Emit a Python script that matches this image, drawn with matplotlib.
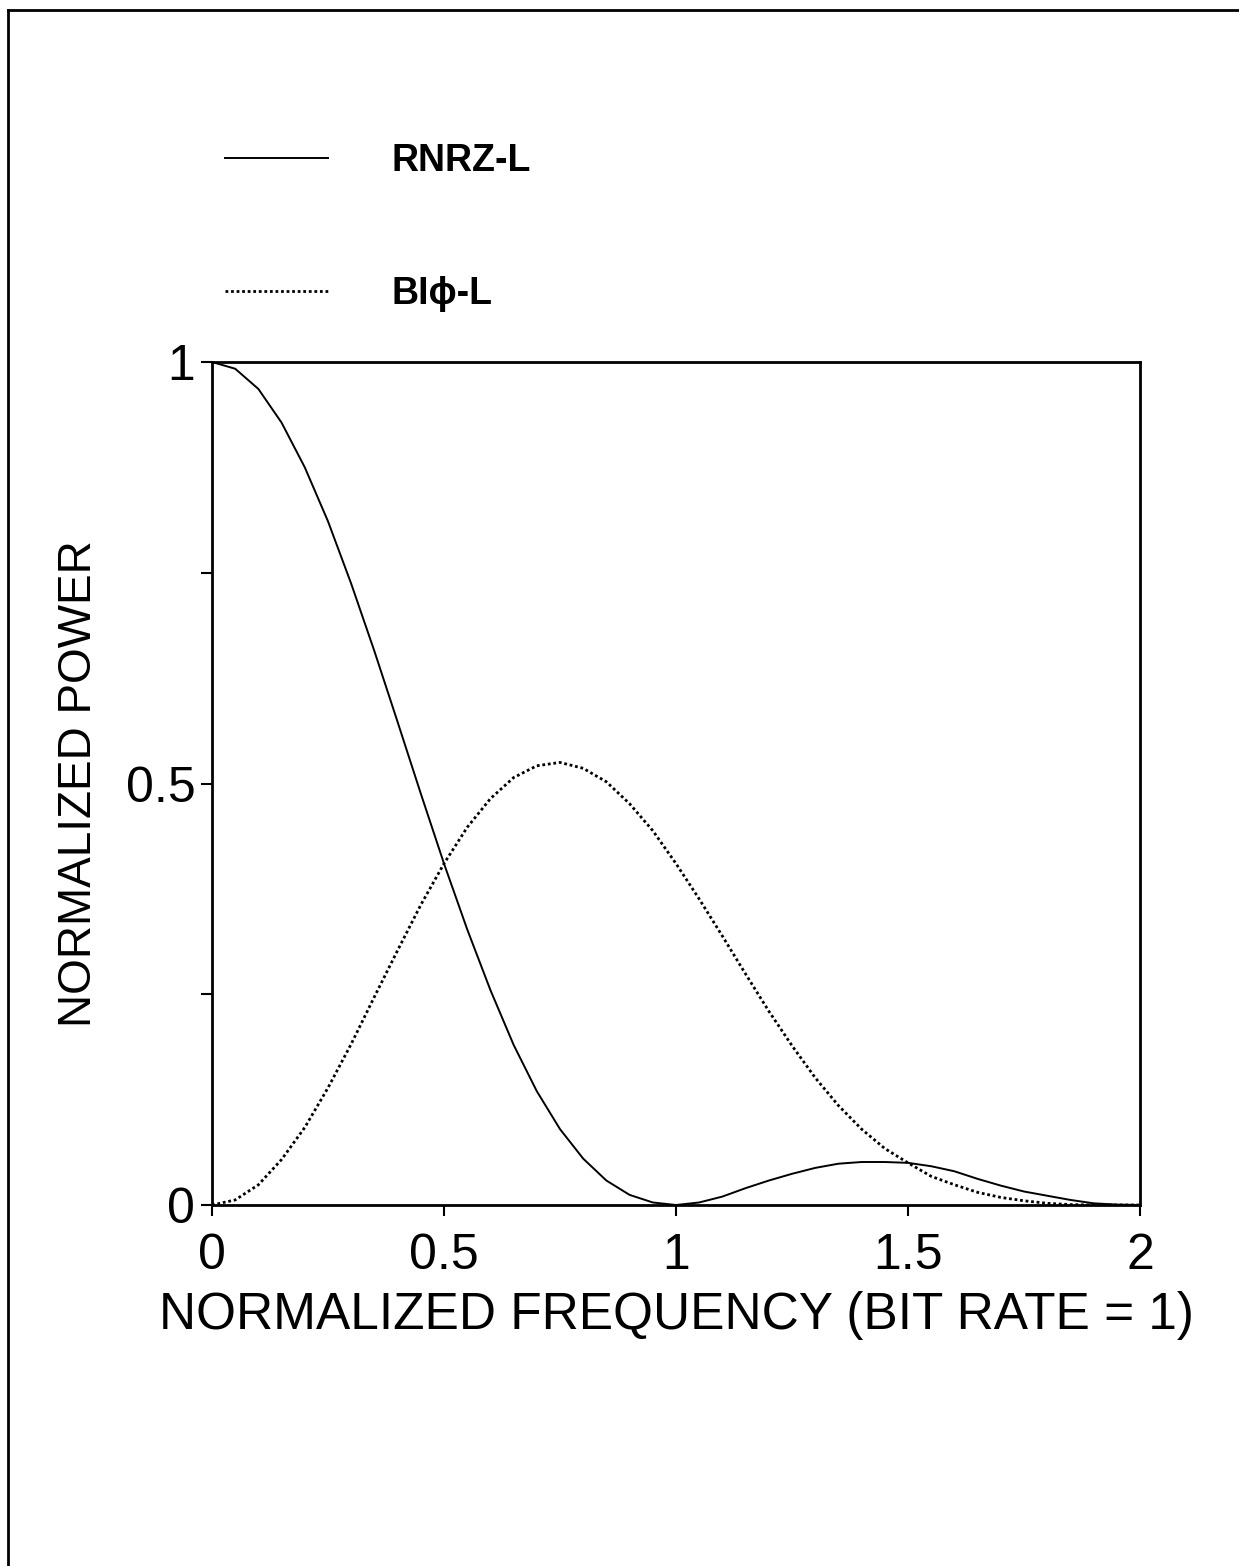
import numpy as np
import matplotlib.pyplot as plt
from matplotlib.lines import Line2D

plt.rcParams['font.family'] = ['Liberation Sans', 'DejaVu Sans']

# normalized frequency (bit rate = 1)
freq = [0.0, 0.05, 0.1, 0.15, 0.2, 0.25, 0.3, 0.35, 0.4, 0.45,
        0.5, 0.55, 0.6, 0.65, 0.7, 0.75, 0.8, 0.85, 0.9, 0.95,
        1.0, 1.05, 1.1, 1.15, 1.2, 1.25, 1.3, 1.35, 1.4, 1.45,
        1.5, 1.55, 1.6, 1.65, 1.7, 1.75, 1.8, 1.85, 1.9, 1.95, 2.0]

# RNRZ-L power (solid line)
rnrz = [1.0, 0.992, 0.968, 0.928, 0.875, 0.811, 0.737, 0.657, 0.573, 0.488,
        0.405, 0.327, 0.255, 0.190, 0.135, 0.090, 0.055, 0.029, 0.012, 0.003,
        0.0, 0.003, 0.010, 0.020, 0.029, 0.037, 0.044, 0.049, 0.051, 0.051,
        0.050, 0.046, 0.040, 0.031, 0.023, 0.016, 0.011, 0.006, 0.002, 0.0005, 0.0]

# Bi-phase-L power (dotted line)
biphase = [0.0, 0.006, 0.024, 0.054, 0.092, 0.139, 0.191, 0.247, 0.302, 0.356,
           0.405, 0.448, 0.482, 0.507, 0.521, 0.525, 0.518, 0.502, 0.476, 0.444,
           0.405, 0.363, 0.319, 0.274, 0.230, 0.189, 0.151, 0.118, 0.090, 0.067,
           0.050, 0.034, 0.024, 0.015, 0.009, 0.005, 0.002, 0.0005, 0.0, 0.0, 0.0]

x_ticks = [0, 0.5, 1, 1.5, 2]
x_tick_labels = ['0', '0.5', '1', '1.5', '2']
y_ticks = [0, 0.25, 0.5, 0.75, 1]
y_tick_labels = ['0', '', '0.5', '', '1']

W, H = 1239, 1566
fig = plt.figure(figsize=(W / 100, H / 100), dpi=100)
ax = fig.add_axes([212 / W, 1 - 1205 / H, 928 / W, 843 / H])

l1, = ax.plot(freq, rnrz, color='black', lw=1.4, label='RNRZ-L')
l2, = ax.plot(freq, biphase, color='black', lw=2.0, linestyle=(0, (1, 1)),
              label='BI\u03d5-L')

ax.set_xlim(0, 2)
ax.set_ylim(0, 1)
ax.set_xticks(x_ticks)
ax.set_xticklabels(x_tick_labels)
ax.set_yticks(y_ticks)
ax.set_yticklabels(y_tick_labels)
ax.tick_params(direction='out', length=8, width=1.5, labelsize=36, pad=4,
               top=False, right=False)
ax.tick_params(axis='x', pad=12)
for s in ax.spines.values():
    s.set_linewidth(2)

ax.set_xlabel('NORMALIZED FREQUENCY (BIT RATE = 1)', fontsize=37, labelpad=9)
ax.set_ylabel('NORMALIZED POWER', fontsize=33, labelpad=18)

fig.legend(handles=[l1, l2], loc='upper left',
           bbox_to_anchor=(225 / W, 1 - 143 / H), frameon=False,
           prop={'weight': 'bold', 'size': 27}, handlelength=2.75,
           handletextpad=1.7, labelspacing=2.6, borderpad=0, borderaxespad=0)

# scanned page border (left and top)
fig.add_artist(Line2D([8 / W, 8 / W], [0, 1 - 10 / H], color='black', lw=2,
                      transform=fig.transFigure))
fig.add_artist(Line2D([8 / W, 1], [1 - 10 / H, 1 - 10 / H], color='black', lw=2,
                      transform=fig.transFigure))

plt.savefig('out.png', dpi=100)
